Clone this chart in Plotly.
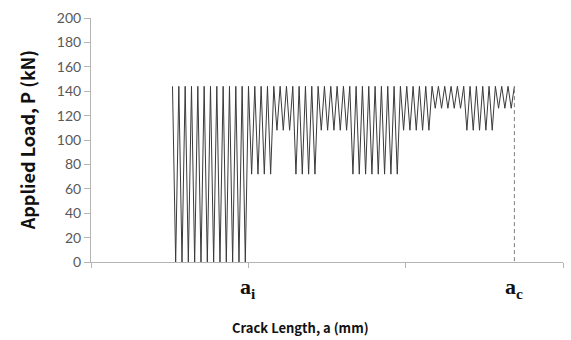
import plotly.graph_objects as go

# Constant-amplitude peak load of every cycle (kN)
peak_load = 144

# Minimum load of each cycle, given as (valley load in kN, number of cycles) blocks
valley_blocks = [
    (0, 12),
    (72, 4),
    (108, 3),
    (72, 4),
    (108, 5),
    (72, 8),
    (108, 5),
    (126, 5),
    (108, 5),
    (126, 3),
]

# Crack length at the first peak and growth per load reversal (axis units)
a_start = 0.518
da_half_cycle = 0.02012

# Marked crack lengths on the horizontal axis
a_i = 1.0
a_c = 2.691

y_ticks = [0, 20, 40, 60, 80, 100, 120, 140, 160, 180, 200]

# Build the alternating load history: peak, valley, peak, valley, ..., peak
valleys = []
for load, count in valley_blocks:
    valleys.extend([load] * count)

loads = [peak_load]
for v in valleys:
    loads.append(v)
    loads.append(peak_load)
crack = [a_start + k * da_half_cycle for k in range(len(loads))]

fig = go.Figure()
fig.add_trace(go.Scatter(
    x=crack, y=loads, mode="lines",
    line=dict(color="#3a3a3a", width=1),
    hoverinfo="skip", showlegend=False,
))
# Critical crack length marker
fig.add_trace(go.Scatter(
    x=[a_c, a_c], y=[-5, peak_load], mode="lines",
    line=dict(color="#7f7f7f", width=1, dash="4px,3px"),
    hoverinfo="skip", showlegend=False, cliponaxis=False,
))

axis_grey = "#b4b4b4"
label_font = dict(family="Liberation Serif", size=22, color="#111")
title_family = "Noto Sans CJK KR"
fig.update_layout(
    width=571, height=340,
    margin=dict(l=91, r=8, t=18, b=78),
    paper_bgcolor="white", plot_bgcolor="white",
    xaxis=dict(
        range=[0, 3], tickvals=[0, 1, 2, 3], showticklabels=False,
        showgrid=False, zeroline=False, showline=True, linecolor=axis_grey,
        linewidth=1, ticks="outside", ticklen=5, tickcolor=axis_grey,
    ),
    yaxis=dict(
        range=[0, 200], tickvals=y_ticks, showgrid=False, zeroline=False,
        showline=True, linecolor=axis_grey, linewidth=1,
        ticks="outside", ticklen=6, tickcolor=axis_grey,
        tickfont=dict(family="Lato", size=14, color="#595959"),
    ),
    annotations=[
        dict(text="<b>a<sub>i</sub></b>", x=a_i, y=-0.105, xref="x", yref="paper",
             xanchor="center", yanchor="middle", showarrow=False, font=label_font),
        dict(text="<b>a<sub>c</sub></b>", x=a_c, y=-0.105, xref="x", yref="paper",
             xanchor="center", yanchor="middle", showarrow=False, font=label_font),
        dict(text="<b>Crack Length, a (mm)</b>", x=0.443, y=-0.27, xref="paper", yref="paper",
             xanchor="center", yanchor="middle", showarrow=False,
             font=dict(family=title_family, size=13, color="#111")),
        dict(text="<b>Applied Load, P (kN)</b>", x=-0.135, y=0.5, xref="paper", yref="paper",
             xanchor="center", yanchor="middle", textangle=-90, showarrow=False,
             font=dict(family=title_family, size=18, color="#111")),
    ],
)

fig.write_html("out.html")
